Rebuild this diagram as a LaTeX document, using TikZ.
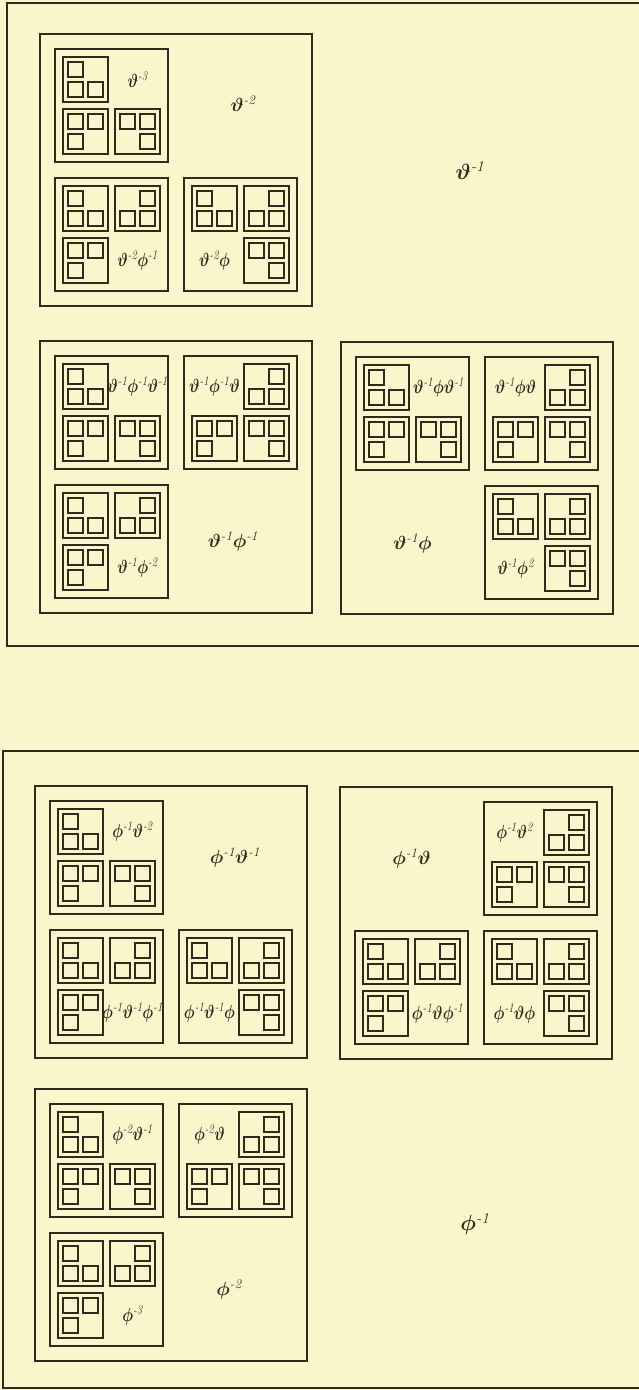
\RequirePackage{fix-cm}
\documentclass[tikz,border=0pt]{standalone}
\usepackage{amsmath}
\usepackage{graphicx}
\usepackage{tikz}

\definecolor{paper}{RGB}{250,246,204}
\definecolor{ink}{RGB}{52,40,28}

% exponent as printed: italic figures
\newcommand\pw[1]{^{\textit{#1}}}
% narrow letters for the smallest labels
\newcommand\sqz[1]{\scalebox{0.8}[1]{#1}}

% smallest cell (45): three little boxes, quadrant #3 left empty
\newcommand\sqC[3]{%
  \draw[box] (#1,#2) rectangle ++(45,45);
  \foreach \q in {0,1,2,3}{%
    \ifnum\q=#3\relax\else
      \draw[box] ({#1+5+20*mod(\q,2)},{#2+5+20*int(\q/2)}) rectangle ++(15,15);
    \fi}}

% cell of 113: three cells of 45, label in the empty quadrant #3
\newcommand\sqB[5]{%
  \draw[box] (#1,#2) rectangle ++(113,113);
  \foreach \q in {0,1,2,3}{%
    \ifnum\q=#3\relax\else
      \pgfmathsetmacro\bx{#1+8+52*mod(\q,2)}
      \pgfmathsetmacro\by{#2+8+52*int(\q/2)}
      \pgfmathtruncatemacro\bm{\q+1-2*mod(\q,2)}
      \sqC{\bx}{\by}{\bm}
    \fi}
  \node[lab] (#5) at ({#1+30.5+52*mod(#3,2)},{#2+30.5+52*int(#3/2)}) {\sqz{#4}};}

\begin{document}
\begin{tikzpicture}[x=1pt, y=-1pt,
    box/.style={draw=ink, line width=1.4pt},
    frame/.style={draw=ink, line width=1.8pt},
    lab/.style={text=ink, inner sep=0pt,
                font=\fontsize{19}{22}\selectfont\boldmath},
    labA/.style={lab, font=\fontsize{19}{22}\selectfont\boldmath},
    labO/.style={lab, font=\fontsize{22}{26}\selectfont\boldmath}
  ]
  \useasboundingbox (0,0) rectangle (639,1390);
  \fill[paper] (0,0) rectangle (639,1390);
  \clip (0,0) rectangle (639,1390);

  % upper half: theta^{-1}
  \draw[frame] (7,3) rectangle (647,646);
  \node[labO] (t1) at (470,170) {$\vartheta\pw{-1}$};

  \begin{scope}[shift={(40,34)}]
    \draw[box] (0,0) rectangle (272,272);
    \node[labA] (t2) at (203,70) {$\vartheta\pw{-2}$};
    \sqB{15}{15}{1}{$\vartheta\pw{-3}$}{t3}
    \sqB{15}{144}{3}{$\vartheta\pw{-2}\phi\pw{-1}$}{t2f1}
    \sqB{144}{144}{2}{$\vartheta\pw{-2}\phi$}{t2f}
  \end{scope}

  \begin{scope}[shift={(40,341)}]
    \draw[box] (0,0) rectangle (272,272);
    \node[labA] (t1f1) at (193,200) {$\vartheta\pw{-1}\phi\pw{-1}$};
    \sqB{15}{15}{1}{$\vartheta\pw{-1}\phi\pw{-1}\vartheta\pw{-1}$}{t1f1t1}
    \sqB{144}{15}{0}{$\vartheta\pw{-1}\phi\pw{-1}\vartheta$}{t1f1t}
    \sqB{15}{144}{3}{$\vartheta\pw{-1}\phi\pw{-2}$}{t1f2}
  \end{scope}

  \begin{scope}[shift={(341,342)}]
    \draw[box] (0,0) rectangle (272,272);
    \node[labA] (t1f) at (71.5,201) {$\vartheta\pw{-1}\phi$};
    \sqB{15}{15}{1}{$\vartheta\pw{-1}\phi\vartheta\pw{-1}$}{t1ft1}
    \sqB{144}{15}{0}{$\vartheta\pw{-1}\phi\vartheta$}{t1ft}
    \sqB{144}{144}{2}{$\vartheta\pw{-1}\phi\pw{2}$}{t1f2p}
  \end{scope}

  % lower half: phi^{-1}
  \draw[frame] (3,751) rectangle (643,1388);
  \node[labO] (f1) at (475,1224) {$\phi\pw{-1}$};

  \begin{scope}[shift={(35,786)}]
    \draw[box] (0,0) rectangle (272,272);
    \node[labA] (f1t1) at (200,71.5) {$\phi\pw{-1}\vartheta\pw{-1}$};
    \sqB{15}{15}{1}{$\phi\pw{-1}\vartheta\pw{-2}$}{f1t2}
    \sqB{15}{144}{3}{$\phi\pw{-1}\vartheta\pw{-1}\phi\pw{-1}$}{f1t1f1}
    \sqB{144}{144}{2}{$\phi\pw{-1}\vartheta\pw{-1}\phi$}{f1t1f}
  \end{scope}

  \begin{scope}[shift={(340,787)}]
    \draw[box] (0,0) rectangle (272,272);
    \node[labA] (f1t) at (71.5,71.5) {$\phi\pw{-1}\vartheta$};
    \sqB{144}{15}{0}{$\phi\pw{-1}\vartheta\pw{2}$}{f1t2p}
    \sqB{15}{144}{3}{$\phi\pw{-1}\vartheta\phi\pw{-1}$}{f1tf1}
    \sqB{144}{144}{2}{$\phi\pw{-1}\vartheta\phi$}{f1tf}
  \end{scope}

  \begin{scope}[shift={(35,1089)}]
    \draw[box] (0,0) rectangle (272,272);
    \node[labA] (f2) at (194,200.5) {$\phi\pw{-2}$};
    \sqB{15}{15}{1}{$\phi\pw{-2}\vartheta\pw{-1}$}{f2t1}
    \sqB{144}{15}{0}{$\phi\pw{-2}\vartheta$}{f2t}
    \sqB{15}{144}{3}{$\phi\pw{-3}$}{f3}
  \end{scope}
\end{tikzpicture}
\end{document}
